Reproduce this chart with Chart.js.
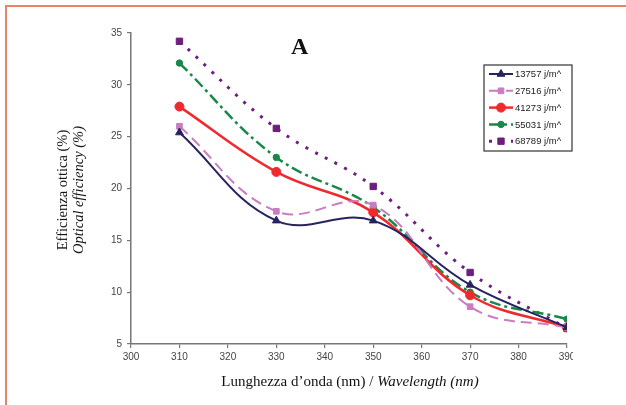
<!DOCTYPE html>
<html>
<head>
<meta charset="utf-8">
<script src="https://cdn.jsdelivr.net/npm/chart.js@4/dist/chart.umd.min.js"></script>
<style>
  body { margin: 0; background: #fff; width: 626px; height: 405px; overflow: hidden; position: relative; }
  #frame { position: absolute; left: 5px; top: 5px; width: 660px; height: 440px;
           border-top: 2px solid #e8836a; border-left: 2px solid #e8836a; }
  #wrap { position: absolute; left: 0; top: 0; width: 573px; height: 405px; overflow: hidden; }
  #box { position: absolute; left: 0; top: 0; width: 626px; height: 405px; }
  .serif { position: absolute; font-family: "Liberation Serif", "Times New Roman", serif; color: #111; white-space: nowrap; }
  #panel { left: 291px; top: 33px; font-size: 24px; font-weight: bold; }
  #ytitle { left: 70px; top: 190px; font-size: 14.5px; line-height: 16px; text-align: center;
            transform: translate(-50%, -50%) rotate(-90deg); }
  #xtitle { left: 350px; top: 381px; font-size: 15px; transform: translate(-50%, -50%); }
</style>
</head>
<body>
<div id="frame"></div>
<div id="wrap"><div id="box"><canvas id="optChart"></canvas></div></div>
<div id="panel" class="serif">A</div>
<div id="ytitle" class="serif">Efficienza ottica (%)<br><i>Optical efficiency (%)</i></div>
<div id="xtitle" class="serif">Lunghezza d’onda (nm) / <i>Wavelength (nm)</i></div>
<script>
// data
const wavelengths = [310, 330, 350, 370, 390];
const labels = ['13757 j/m^', '27516 j/m^', '41273 j/m^', '55031 j/m^', '68789 j/m^'];
const e13757 = [25.4, 16.9, 16.9, 10.7, 6.6];
const e27516 = [26.0, 17.8, 18.4, 8.6, 6.6];
const e41273 = [27.9, 21.6, 17.7, 9.7, 6.6];
const e55031 = [32.1, 23.0, 18.2, 10.0, 7.4];
const e68789 = [34.2, 25.8, 20.2, 11.9, 6.5];
const xTicks = [300, 310, 320, 330, 340, 350, 360, 370, 380, 390];
const yTicks = [5, 10, 15, 20, 25, 30, 35];

const pts = vals => vals.map((v, i) => ({ x: wavelengths[i], y: v }));

function series(label, vals, color, width, dash, style, radius) {
  return {
    label, data: pts(vals),
    borderColor: color, backgroundColor: color,
    pointBackgroundColor: color, pointBorderColor: color,
    borderWidth: width, borderDash: dash,
    pointStyle: style, pointRadius: radius, pointBorderWidth: 1,
    tension: 0.4, fill: false
  };
}

// legend drawn inside plot, with line sample + marker like the original
const boxLegend = {
  id: 'boxLegend',
  afterDraw(chart) {
    const ctx = chart.ctx;
    const bx = 484, by = 65, bw = 88, bh = 86;
    ctx.save();
    ctx.setLineDash([]);
    ctx.strokeStyle = '#333';
    ctx.lineWidth = 1.2;
    ctx.strokeRect(bx, by, bw, bh);
    chart.data.datasets.forEach((ds, i) => {
      const y = by + 9 + i * 16.8;
      ctx.strokeStyle = ds.borderColor;
      ctx.lineWidth = ds.borderWidth;
      ctx.setLineDash(ds.borderDash || []);
      ctx.beginPath();
      ctx.moveTo(bx + 5, y);
      ctx.lineTo(bx + 29, y);
      ctx.stroke();
      ctx.setLineDash([]);
      ctx.fillStyle = ds.pointBackgroundColor;
      ctx.lineWidth = 1;
      Chart.helpers.drawPoint(ctx, { pointStyle: ds.pointStyle, radius: ds.pointRadius, rotation: 0, borderWidth: 1 }, bx + 17, y);
      ctx.fillStyle = '#222';
      ctx.font = '9.5px "Liberation Sans", Arial, sans-serif';
      ctx.textBaseline = 'middle';
      ctx.fillText(ds.label, bx + 31, y + 0.5);
    });
    ctx.restore();
  }
};

new Chart(document.getElementById('optChart'), {
  type: 'line',
  data: {
    datasets: [
      series(labels[0], e13757, '#27235f', 2, [], 'triangle', 4.5),
      series(labels[1], e27516, '#c77dc0', 2, [11, 6], 'rect', 4),
      series(labels[2], e41273, '#ee2a2e', 2.5, [], 'circle', 4.5),
      series(labels[3], e55031, '#18884a', 2.5, [11, 4, 3, 4], 'circle', 3.2),
      series(labels[4], e68789, '#6c1f7e', 3, [3, 8], 'rect', 4.5)
    ]
  },
  options: {
    responsive: true,
    maintainAspectRatio: false,
    animation: false,
    layout: { padding: { left: 91, top: 33, right: 59, bottom: 41 } },
    plugins: { legend: { display: false }, tooltip: { enabled: false } },
    scales: {
      x: {
        type: 'linear', min: 300, max: 390,
        afterFit: s => { s.height = 20; },
        afterBuildTicks: s => { s.ticks = xTicks.map(v => ({ value: v })); },
        grid: { drawOnChartArea: false, tickLength: 4, color: '#777', lineWidth: 1.2 },
        border: { color: '#777', width: 1.5 },
        ticks: { padding: 3, color: '#444', font: { family: '"Liberation Sans", Arial, sans-serif', size: 10 } }
      },
      y: {
        min: 5, max: 35,
        afterFit: s => { s.width = 40; },
        afterBuildTicks: s => { s.ticks = yTicks.map(v => ({ value: v })); },
        grid: { drawOnChartArea: false, tickLength: 4, color: '#777', lineWidth: 1.2 },
        border: { color: '#777', width: 1.5 },
        ticks: { padding: 5, color: '#444', font: { family: '"Liberation Sans", Arial, sans-serif', size: 10 } }
      }
    }
  },
  plugins: [boxLegend]
});
</script>
</body>
</html>
